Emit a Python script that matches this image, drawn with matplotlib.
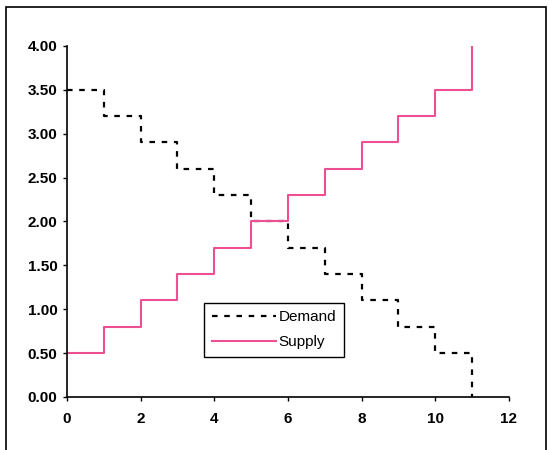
import matplotlib
matplotlib.use('Agg')
import matplotlib.pyplot as plt
from matplotlib.patches import Rectangle

plt.rcParams['font.family'] = ['Liberation Sans', 'DejaVu Sans']

### step data
quantity = [0, 1, 2, 3, 4, 5, 6, 7, 8, 9, 10, 11]
demand   = [3.50, 3.20, 2.90, 2.60, 2.30, 2.00, 1.70, 1.40, 1.10, 0.80, 0.50, 0.00]
supply   = [0.50, 0.80, 1.10, 1.40, 1.70, 2.00, 2.30, 2.60, 2.90, 3.20, 3.50, 4.00]

x_ticks = [0, 2, 4, 6, 8, 10, 12]
y_ticks = [0.0, 0.5, 1.0, 1.5, 2.0, 2.5, 3.0, 3.5, 4.0]

fig = plt.figure(figsize=(5.49, 4.5), dpi=100)
ax  = fig.add_axes([0.122, 0.118, 0.805, 0.780])

ax.plot(quantity, demand, drawstyle='steps-post', color='black',
        linestyle=(0, (2.5, 3)), linewidth=1.6, label='Demand')
ax.plot(quantity, supply, drawstyle='steps-post', color='#ee4f92',
        linewidth=1.5, label='Supply')

ax.set_xlim(0, 12)
ax.set_ylim(0, 4)
ax.set_xticks(x_ticks)
ax.set_yticks(y_ticks)
ax.set_yticklabels(['%.2f' % v for v in y_ticks])
ax.tick_params(direction='out', length=3, width=1, labelsize=11, pad=4)
ax.tick_params(axis='x', pad=8)
for lbl in ax.get_xticklabels() + ax.get_yticklabels():
    lbl.set_fontweight('bold')

ax.spines['top'].set_visible(False)
ax.spines['right'].set_visible(False)
ax.spines['left'].set_linewidth(1.2)
ax.spines['bottom'].set_linewidth(1.2)

leg = ax.legend(loc='upper left', bbox_to_anchor=(0.31, 0.268), fancybox=False,
                framealpha=1, edgecolor='black', fontsize=11, handlelength=4.2,
                borderpad=0.5, labelspacing=0.7, handletextpad=0.2,
                borderaxespad=0)
leg.get_frame().set_linewidth(1.0)

# outer chart frame
fig.add_artist(Rectangle((0.011, -0.02), 0.984, 1.005, transform=fig.transFigure,
                         fill=False, edgecolor='black', linewidth=1.2, clip_on=False))

fig.savefig('out.png', dpi=100)
